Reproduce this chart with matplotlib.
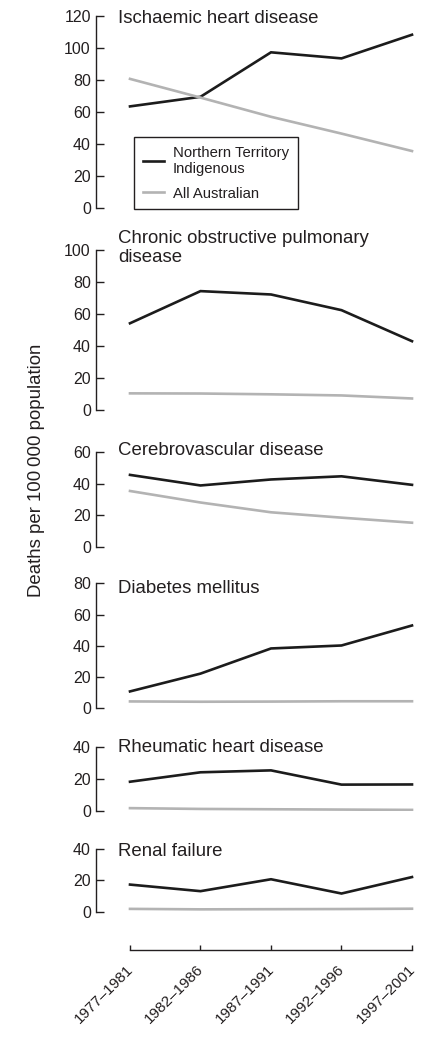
import matplotlib.pyplot as plt
import matplotlib.transforms as mtransforms
import numpy as np

plt.rcParams['font.family'] = ['Liberation Sans', 'DejaVu Sans']

periods = ['1977\u20131981', '1982\u20131986', '1987\u20131991', '1992\u20131996', '1997\u20132001']

titles = ['Ischaemic heart disease',
          'Chronic obstructive pulmonary\ndisease',
          'Cerebrovascular disease',
          'Diabetes mellitus',
          'Rheumatic heart disease',
          'Renal failure']
ymax = [120, 100, 60, 80, 40, 40]

nt_indigenous = [
    [63.5, 69.5, 97.3, 93.5, 108.3],
    [54.2, 74.3, 72.2, 62.4, 43.0],
    [45.5, 38.8, 42.6, 44.6, 39.2],
    [10.8, 22.2, 38.3, 40.2, 53.0],
    [18.1, 24.0, 25.2, 16.3, 16.4],
    [17.3, 13.1, 20.7, 11.6, 22.1],
]
all_australian = [
    [80.7, 69.0, 57.0, 46.5, 35.6],
    [10.4, 10.3, 9.8, 9.1, 7.2],
    [35.3, 28.0, 21.8, 18.4, 15.2],
    [4.4, 4.2, 4.3, 4.5, 4.5],
    [1.6, 1.1, 0.9, 0.7, 0.5],
    [1.8, 1.5, 1.6, 1.7, 1.9],
]

W, H = 439, 1041
# panel top/bottom in pixels
tops = [16, 250, 452, 583.3, 746.7, 849]
bots = [208, 410, 546.7, 708.3, 810.7, 911.7]
title_base = [7.3, 11.7, 3.3, 10, 5, 7]
left_px, right_px = 95.7, 420
x0_px, x4_px = 130, 412

ink = '#231f20'
black = '#1c1c1c'
grey = '#b3b3b3'

fig = plt.figure(figsize=(W / 100, H / 100), dpi=100)
x = np.arange(len(periods))
ppu = (x4_px - x0_px) / 4.0
xlim = (-(x0_px - left_px) / ppu, 4 + (right_px - x4_px) / ppu)

for i in range(6):
    ax = fig.add_axes([left_px / W, 1 - bots[i] / H,
                       (right_px - left_px) / W, (bots[i] - tops[i]) / H])
    l1, = ax.plot(x, nt_indigenous[i], color=black, lw=1.9, solid_joinstyle='miter')
    l2, = ax.plot(x, all_australian[i], color=grey, lw=1.9)
    ax.set_xlim(*xlim)
    ax.set_ylim(0, ymax[i])
    ax.set_yticks(np.arange(0, ymax[i] + 1, 20))
    for s in ['top', 'right', 'bottom']:
        ax.spines[s].set_visible(False)
    ax.spines['left'].set_color(ink)
    ax.spines['left'].set_linewidth(1.0)
    ax.set_xticks([])
    ax.tick_params(axis='y', direction='in', length=5.5, width=1.0, color=ink,
                   labelsize=11.5, labelcolor=ink, pad=3.5)
    ax.patch.set_visible(False)
    ax.text((118 - left_px) / (right_px - left_px), 1 - title_base[i] / (bots[i] - tops[i]),
            titles[i], transform=ax.transAxes, fontsize=13.4, color=ink,
            ha='left', va='baseline', linespacing=1.15)
    if i == 0:
        leg = ax.legend([l1, l2], ['Northern Territory\nIndigenous', 'All Australian'],
                        loc='upper left', bbox_to_anchor=(134 / W, 1 - 137 / H),
                        bbox_transform=fig.transFigure, borderaxespad=0,
                        fontsize=10.7, handlelength=1.45, handletextpad=0.55,
                        fancybox=False, framealpha=1, edgecolor=ink,
                        borderpad=0.6, labelspacing=0.7)
        leg.get_frame().set_linewidth(1.0)
        for t in leg.get_texts():
            t.set_color(ink)

# shared x axis at the bottom
axx = fig.add_axes([left_px / W, 1 - 950 / H, (right_px - left_px) / W, 10 / H])
axx.set_xlim(*xlim)
axx.set_yticks([])
for s in ['top', 'right', 'left']:
    axx.spines[s].set_visible(False)
axx.spines['bottom'].set_bounds(0, 4)
axx.spines['bottom'].set_color(ink)
axx.spines['bottom'].set_linewidth(1.0)
axx.patch.set_visible(False)
axx.set_xticks(x)
axx.set_xticklabels(periods, rotation=45, ha='right', va='top',
                    rotation_mode='anchor', fontsize=11, color=ink)
axx.tick_params(axis='x', direction='in', length=3.5, width=1.0, color=ink, pad=6)
shift = mtransforms.ScaledTranslation(-4 / 100, -4 / 100, fig.dpi_scale_trans)
for lab in axx.get_xticklabels():
    lab.set_transform(lab.get_transform() + shift)

fig.text(37 / W, 1 - 470 / H, 'Deaths per 100\u2009000 population', rotation=90,
         ha='center', va='center', fontsize=13.4, color=ink)

fig.savefig('out.png', dpi=100)
